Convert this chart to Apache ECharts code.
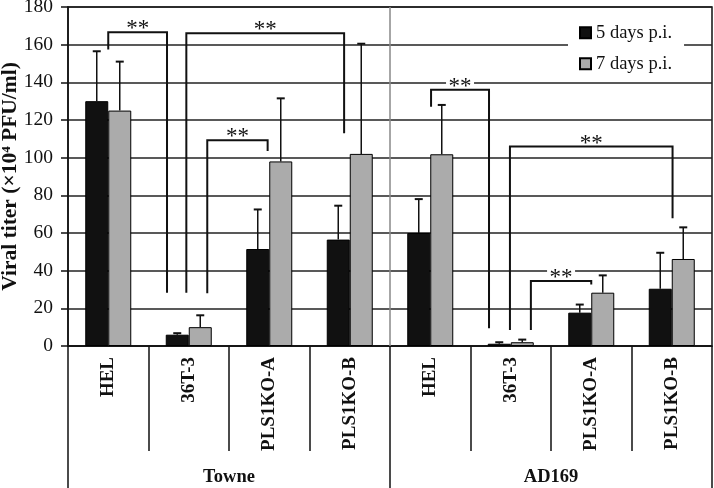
<!DOCTYPE html>
<html><head><meta charset="utf-8">
<script src="https://cdn.jsdelivr.net/npm/echarts@6/dist/echarts.min.js"></script>
<style>html,body{margin:0;padding:0;background:#fff}#c{width:714px;height:488px}</style>
</head><body><div id="c"></div>
<script>
// ---- data ----
const categories = ['HEL', '36T-3', 'PLS1KO-A', 'PLS1KO-B', 'HEL', '36T-3', 'PLS1KO-A', 'PLS1KO-B'];
const groups = ['Towne', 'AD169'];
const seriesNames = ['5 days p.i.', '7 days p.i.'];
const day5 = [130, 6, 51.5, 56.5, 60, 1.2, 17.7, 30.4];
const day5Err = [26.5, 0.8, 21, 18, 18, 0.8, 4.3, 19.1];
const day7 = [125, 10, 98, 102, 101.8, 2.0, 28.3, 46.2];
const day7Err = [26, 6.3, 33.5, 58.5, 26.2, 1.4, 9.2, 16.8];
const yMin = 0, yMax = 180, yStep = 20;
const yTitle = 'Viral titer (×10⁴ PFU/ml)';
// significance brackets: [left position, right position (category units), top value, left foot value, right foot value]
const brackets = [
  [0.0, 0.73, 166.6, 157.5, 28.3],
  [0.97, 2.93, 166, 28.3, 112.9],
  [1.23, 1.98, 109.2, 28, 103.5],
  [4.01, 4.73, 136, 127, 9.4],
  [4.99, 7.01, 105.9, 8.5, 67.8],
  [5.25, 6.0, 34.5, 8.5, 32.7]
];
const sigLabel = '**';

// ---- style ----
const FONT = '"Liberation Serif", "Times New Roman", serif';
const INK = '#111';
const BAR_W = 23;
const perGroup = categories.length / groups.length;

function xPix(api, pos) {
  const i = Math.floor(pos);
  const f = pos - i;
  return api.coord([i, 0])[0] + f * api.size([1, 0])[0];
}

function errRender(offset) {
  return function (params, api) {
    const i = api.value(0), v = api.value(1), e = api.value(2);
    const p0 = api.coord([i, v]);
    const p1 = api.coord([i, v + e]);
    const x = p0[0] + offset;
    return {
      type: 'group',
      children: [
        { type: 'line', shape: { x1: x, y1: p0[1], x2: x, y2: p1[1] }, style: { stroke: INK, lineWidth: 1.5 } },
        { type: 'line', shape: { x1: x - 4, y1: p1[1], x2: x + 4, y2: p1[1] }, style: { stroke: INK, lineWidth: 2 } }
      ]
    };
  };
}

function bracketRender(params, api) {
  const b = brackets[params.dataIndex];
  const xl = xPix(api, b[0]), xr = xPix(api, b[1]);
  const yt = api.coord([0, b[2]])[1];
  const yl = api.coord([0, b[3]])[1];
  const yr = api.coord([0, b[4]])[1];
  const xm = (xl + xr) / 2;
  return {
    type: 'group',
    children: [
      { type: 'polyline', shape: { points: [[xl, yl], [xl, yt], [xr, yt], [xr, yr]] },
        style: { stroke: INK, lineWidth: 2, fill: 'none' } },
      { type: 'rect', shape: { x: xm - 14, y: yt - 12, width: 28, height: 10 }, style: { fill: '#fff' } },
      { type: 'text', x: xm, y: yt - 3,
        style: { text: sigLabel, font: '23px ' + FONT, fill: INK, align: 'center', verticalAlign: 'middle' } }
    ]
  };
}

function groupSepRender(params, api) {
  const cs = params.coordSys;
  const x = xPix(api, api.value(0) - 0.5);
  return { type: 'line', shape: { x1: x, y1: cs.y, x2: x, y2: cs.y + cs.height },
           style: { stroke: '#888', lineWidth: 1.5 } };
}

const chart = echarts.init(document.getElementById('c'), null, { renderer: 'canvas' });
chart.setOption({
  animation: false,
  backgroundColor: '#fff',
  textStyle: { fontFamily: FONT, color: INK },
  grid: { left: 68, right: 2, top: 7, bottom: 142, containLabel: false, outerBoundsMode: 'none',
          show: true, borderColor: INK, borderWidth: 1.5 },
  legend: {
    data: seriesNames,
    orient: 'vertical',
    left: 568, top: 17,
    padding: [5.7, 12, 4, 11],
    itemGap: 11,
    itemWidth: 11, itemHeight: 11,
    icon: 'rect',
    backgroundColor: '#fff',
    textStyle: { fontFamily: FONT, fontSize: 18.5, color: INK, lineHeight: 20 }
  },
  xAxis: [
    {
      type: 'category',
      data: categories,
      position: 'bottom',
      axisLine: { onZero: false, lineStyle: { color: INK, width: 1.5 } },
      axisTick: { show: true, interval: 0, length: 105, lineStyle: { color: INK, width: 1.5 } },
      axisLabel: { interval: 0, rotate: 90, margin: 11, fontFamily: FONT, fontSize: 19, fontWeight: 'bold', color: INK },
      splitLine: { show: false }
    },
    {
      type: 'category',
      data: groups,
      position: 'bottom',
      axisLine: { show: false, onZero: false },
      axisTick: { show: true, interval: 0, length: 142, lineStyle: { color: INK, width: 1.5 } },
      axisLabel: { interval: 0, margin: 122, fontFamily: FONT, fontSize: 18.5, fontWeight: 'bold', color: INK },
      splitLine: { show: false }
    }
  ],
  yAxis: {
    type: 'value',
    min: yMin, max: yMax, interval: yStep,
    name: yTitle,
    nameLocation: 'middle',
    nameRotate: 90,
    nameGap: 47,
    nameMoveOverlap: false,
    nameTextStyle: { fontFamily: FONT, fontSize: 21.5, fontWeight: 'bold', color: INK },
    axisLine: { show: true, lineStyle: { color: INK, width: 1.5 } },
    axisTick: { show: true, length: 7, lineStyle: { color: INK, width: 1.5 } },
    axisLabel: { margin: 15, fontFamily: FONT, fontSize: 19.5, color: INK },
    splitLine: { show: true, lineStyle: { color: '#222', width: 1.5 } }
  },
  series: [
    { type: 'custom', name: 'sep', z: 1, renderItem: groupSepRender,
      data: [[perGroup, 0]] },
    { name: seriesNames[0], type: 'bar', data: day5, barWidth: BAR_W, barGap: '0%',
      itemStyle: { color: '#111', borderColor: '#000', borderWidth: 1 } },
    { name: seriesNames[1], type: 'bar', data: day7, barWidth: BAR_W, barGap: '0%',
      itemStyle: { color: '#ababab', borderColor: '#000', borderWidth: 1 } },
    { type: 'custom', name: 'err5', z: 3, renderItem: errRender(-BAR_W / 2),
      data: categories.map((c, i) => [i, day5[i], day5Err[i]]) },
    { type: 'custom', name: 'err7', z: 3, renderItem: errRender(BAR_W / 2),
      data: categories.map((c, i) => [i, day7[i], day7Err[i]]) },
    { type: 'custom', name: 'sig', z: 4, renderItem: bracketRender,
      data: brackets.map((b, i) => [0, b[2]]) }
  ]
});
</script></body></html>
